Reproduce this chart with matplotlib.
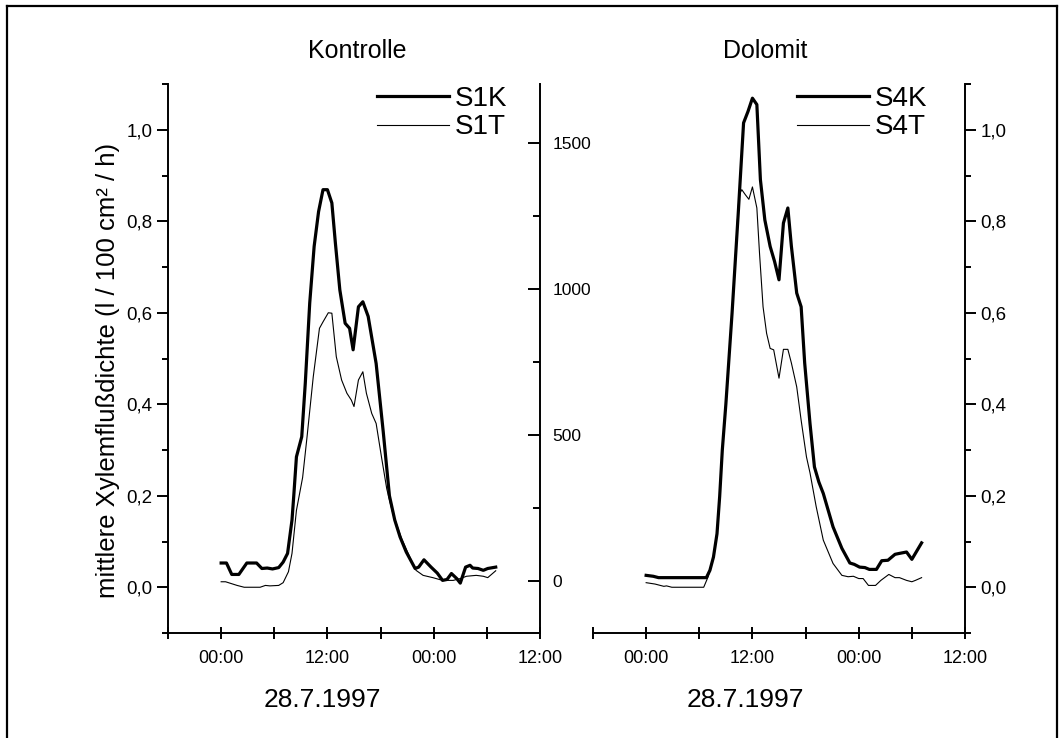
import matplotlib
matplotlib.use("Agg")
import matplotlib.pyplot as plt
from matplotlib.ticker import FixedLocator, FuncFormatter
from matplotlib.lines import Line2D

plt.rcParams['font.family'] = ['Liberation Sans', 'DejaVu Sans']

# hours after 00:00 on 28.7.1997, values in l / 100 cm2 / h
s1k_t = [0.0, 0.6, 1.2, 2.0, 2.9, 4.0, 4.6, 5.2, 5.8, 6.5, 7.0, 7.5, 8.0, 8.2, 8.5, 9.1, 9.5,
         10.0, 10.5, 11.0, 11.5, 12.0, 12.5, 12.9, 13.4, 14.0, 14.5, 14.9, 15.5, 16.0, 16.6,
         17.5, 18.3, 19.0, 19.6, 20.2, 20.9, 21.9, 22.3, 22.9, 23.7, 24.4, 25.0, 25.5, 26.0,
         26.6, 27.0, 27.6, 28.1, 28.4, 29.0, 29.6, 30.1, 31.0]
s1k_v = [0.053, 0.053, 0.028, 0.028, 0.053, 0.053, 0.041, 0.042, 0.040, 0.043, 0.055, 0.074,
         0.147, 0.20, 0.285, 0.329, 0.446, 0.621, 0.745, 0.821, 0.869, 0.869, 0.840, 0.752,
         0.65, 0.577, 0.566, 0.519, 0.613, 0.624, 0.592, 0.489, 0.34, 0.20, 0.147, 0.11,
         0.077, 0.041, 0.044, 0.06, 0.044, 0.031, 0.015, 0.017, 0.03, 0.019, 0.009, 0.044,
         0.048, 0.042, 0.041, 0.037, 0.041, 0.044]

s1t_t = [0.0, 0.5, 1.8, 2.6, 3.5, 4.4, 5.0, 5.5, 6.5, 7.0, 7.6, 8.0, 8.5, 9.2, 9.7, 10.4,
         11.1, 11.5, 12.1, 12.5, 13.0, 13.6, 14.2, 14.7, 15.0, 15.5, 16.0, 16.4, 17.0, 17.5,
         18.1, 18.7, 19.4, 20.4, 21.3, 22.0, 22.8, 23.9, 25.0, 26.2, 27.0, 27.7, 28.8, 29.6,
         30.1, 31.0]
s1t_v = [0.012, 0.012, 0.004, 0.0, 0.0, 0.0, 0.004, 0.003, 0.004, 0.01, 0.034, 0.074, 0.168,
         0.24, 0.329, 0.46, 0.566, 0.58, 0.60, 0.599, 0.504, 0.453, 0.424, 0.409, 0.395,
         0.453, 0.471, 0.424, 0.38, 0.358, 0.285, 0.215, 0.16, 0.105, 0.066, 0.037, 0.026,
         0.021, 0.015, 0.015, 0.019, 0.024, 0.026, 0.024, 0.021, 0.036]

s4k_t = [0.0, 0.8, 1.4, 6.8, 7.2, 7.6, 8.0, 8.3, 8.6, 9.0, 9.7, 10.4, 11.0, 11.5, 12.0, 12.5,
         12.9, 13.4, 14.0, 14.5, 15.0, 15.5, 16.0, 16.4, 17.0, 17.5, 17.9, 18.5, 19.0, 19.5,
         20.0, 21.1, 22.1, 23.0, 23.5, 24.1, 24.7, 25.2, 26.0, 26.6, 27.3, 28.1, 28.6, 29.4,
         30.0, 31.1]
s4k_v = [0.026, 0.024, 0.021, 0.021, 0.037, 0.066, 0.117, 0.198, 0.30, 0.40, 0.599, 0.818,
         1.015, 1.04, 1.069, 1.055, 0.891, 0.803, 0.745, 0.712, 0.672, 0.796, 0.829, 0.745,
         0.643, 0.613, 0.49, 0.358, 0.263, 0.23, 0.205, 0.132, 0.085, 0.053, 0.05, 0.044,
         0.043, 0.039, 0.039, 0.058, 0.059, 0.072, 0.074, 0.077, 0.061, 0.097]

s4t_t = [0.0, 1.0, 2.0, 2.3, 2.9, 6.5, 7.0, 7.6, 8.0, 8.3, 8.6, 9.0, 9.7, 10.3, 10.5, 10.8,
         11.2, 11.6, 12.0, 12.5, 12.8, 13.2, 13.6, 14.0, 14.4, 15.0, 15.5, 16.0, 16.4, 17.0,
         17.5, 18.1, 18.5, 19.2, 20.0, 21.1, 22.1, 22.8, 23.4, 24.0, 24.5, 25.1, 25.9, 26.5,
         27.4, 28.1, 28.6, 29.4, 30.0, 30.4, 31.1]
s4t_v = [0.01, 0.007, 0.002, 0.003, 0.0, 0.0, 0.023, 0.066, 0.117, 0.198, 0.30, 0.40, 0.599,
         0.80, 0.858, 0.869, 0.858, 0.848, 0.875, 0.829, 0.73, 0.613, 0.555, 0.522, 0.519,
         0.457, 0.52, 0.52, 0.49, 0.438, 0.365, 0.285, 0.25, 0.176, 0.103, 0.052, 0.026,
         0.023, 0.024, 0.019, 0.019, 0.004, 0.004, 0.015, 0.028, 0.021, 0.021, 0.015, 0.012,
         0.015, 0.021]

time_ticks = [0, 12, 24, 36]
time_labels = ["00:00", "12:00", "00:00", "12:00"]
mid_ticks = [0, 500, 1000, 1500]

W, H = 1062, 738
fig = plt.figure(figsize=(W / 100, H / 100), dpi=100)


def rect(x0, x1, ytop, ybot):
    return [x0 / W, 1 - ybot / H, (x1 - x0) / W, (ybot - ytop) / H]


comma = FuncFormatter(lambda v, p: f"{v:.1f}".replace(".", ","))


def style_panel(ax, side):
    ax.patch.set_visible(False)
    ax.set_xlim(-6, 36)
    ax.set_ylim(-0.1, 1.1)
    for s in ["top", "left", "right"]:
        ax.spines[s].set_visible(False)
    ax.spines[side].set_visible(True)
    for s in ax.spines.values():
        s.set_linewidth(1.4)
    ax.xaxis.set_major_locator(FixedLocator(time_ticks))
    ax.xaxis.set_minor_locator(FixedLocator([-6, 6, 18, 30]))
    ax.set_xticklabels(time_labels, fontsize=13)
    ax.tick_params(axis="x", which="both", direction="inout", length=9, width=1.4, pad=8)
    ax.yaxis.set_major_locator(FixedLocator([0, 0.2, 0.4, 0.6, 0.8, 1.0]))
    ax.yaxis.set_minor_locator(FixedLocator([-0.1, 0.1, 0.3, 0.5, 0.7, 0.9, 1.1]))
    ax.yaxis.set_major_formatter(comma)
    if side == "right":
        ax.yaxis.tick_right()
    ax.tick_params(axis="y", which="major", direction="out", length=8, width=1.4,
                   labelsize=13.5, pad=3)
    ax.tick_params(axis="y", which="minor", direction="out", length=4.5, width=1.4)


ax1 = fig.add_axes(rect(168, 540, 84, 633))
style_panel(ax1, "left")
ax1.plot(s1k_t, s1k_v, color="black", lw=2.3, label="S1K")
ax1.plot(s1t_t, s1t_v, color="black", lw=0.8, label="S1T")

# middle scale on the right spine of the left panel
axm = ax1.twinx()
axm.set_ylim(-178, 1702)
for s in ["top", "left", "bottom"]:
    axm.spines[s].set_visible(False)
axm.spines["right"].set_linewidth(1.4)
axm.yaxis.set_major_locator(FixedLocator(mid_ticks))
axm.yaxis.set_minor_locator(FixedLocator([250, 750, 1250]))
axm.set_yticklabels([str(v) for v in mid_ticks], fontsize=12.5)
axm.tick_params(axis="y", which="major", direction="in", length=8.5, width=1.4, pad=9)
axm.tick_params(axis="y", which="minor", direction="in", length=5, width=1.4)

ax2 = fig.add_axes(rect(593, 965, 84, 633))
style_panel(ax2, "right")
ax2.plot(s4k_t, s4k_v, color="black", lw=2.3, label="S4K")
ax2.plot(s4t_t, s4t_v, color="black", lw=0.8, label="S4T")

for ax, x0 in [(ax1, 0.562), (ax2, 0.548)]:
    ax.legend(loc="upper left", bbox_to_anchor=(x0, 0.997), frameon=False, fontsize=20,
              handlelength=2.6, handletextpad=0.2, labelspacing=0.1, borderpad=0,
              borderaxespad=0)

fig.text(357 / W, 1 - 51 / H, "Kontrolle", ha="center", va="center", fontsize=18)
fig.text(765 / W, 1 - 51 / H, "Dolomit", ha="center", va="center", fontsize=18)
fig.text(322 / W, 1 - 700 / H, "28.7.1997", ha="center", va="center", fontsize=19)
fig.text(745 / W, 1 - 700 / H, "28.7.1997", ha="center", va="center", fontsize=19)
fig.text(108 / W, 1 - 370 / H, "mittlere Xylemflußdichte (l / 100 cm² / h)", rotation=90,
         ha="center", va="center", fontsize=18.5)

# outer frame, open at the bottom
frame = dict(color="black", lw=1.6, transform=fig.transFigure)
fig.add_artist(Line2D([7 / W, 7 / W], [0, 1 - 6 / H], **frame))
fig.add_artist(Line2D([7 / W, 1057 / W], [1 - 6 / H, 1 - 6 / H], **frame))
fig.add_artist(Line2D([1057 / W, 1057 / W], [0, 1 - 6 / H], **frame))

fig.savefig("out.png", dpi=100)
